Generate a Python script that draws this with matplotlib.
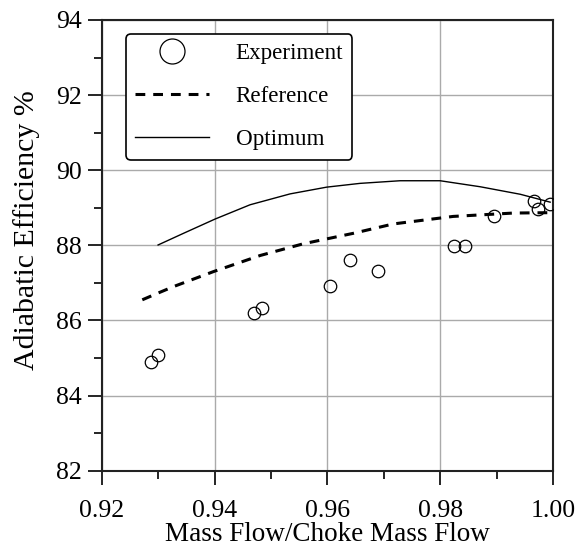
import matplotlib
matplotlib.use("Agg")
import matplotlib.pyplot as plt
from matplotlib.ticker import MultipleLocator

# experiment points
exp_flow = [0.9287, 0.9299, 0.9470, 0.9485, 0.9605, 0.9640, 0.9690,
            0.9825, 0.9844, 0.9896, 0.9967, 0.9974, 0.9995]
exp_eff = [84.89, 85.07, 86.20, 86.34, 86.93, 87.61, 87.31,
           87.97, 87.97, 88.77, 89.17, 88.96, 89.10]

# reference curve
ref_flow = [0.9272, 0.9300, 0.9327, 0.9398, 0.9481, 0.9557, 0.9646,
            0.9717, 0.9823, 0.9930, 0.9995]
ref_eff = [86.55, 86.73, 86.90, 87.30, 87.73, 88.04, 88.32,
           88.57, 88.77, 88.86, 88.87]

# optimum curve
opt_flow = [0.9300, 0.9345, 0.9401, 0.9463, 0.9534, 0.9599, 0.9658,
            0.9729, 0.9800, 0.9871, 0.9942, 0.9995]
opt_eff = [88.01, 88.32, 88.70, 89.08, 89.37, 89.55, 89.65,
           89.72, 89.72, 89.56, 89.36, 89.15]

plt.rcParams['font.family'] = ['Liberation Serif', 'DejaVu Serif']

fig = plt.figure(figsize=(5.83, 5.46), dpi=100)
ax = fig.add_axes([0.1744, 0.1379, 0.7741, 0.8255])

ax.plot(exp_flow, exp_eff, linestyle='none', marker='o', markersize=9,
        markerfacecolor='none', markeredgecolor='black', markeredgewidth=0.9,
        label='Experiment', zorder=3)
ax.plot(ref_flow, ref_eff, color='black', linewidth=2.2, dashes=(3.2, 2.6),
        label='Reference', zorder=3)
ax.plot(opt_flow, opt_eff, color='black', linewidth=1.0,
        label='Optimum', zorder=3)

ax.set_xlim(0.92, 1.00)
ax.set_ylim(82, 94)
ax.xaxis.set_major_locator(MultipleLocator(0.02))
ax.xaxis.set_minor_locator(MultipleLocator(0.01))
ax.yaxis.set_major_locator(MultipleLocator(2))
ax.yaxis.set_minor_locator(MultipleLocator(1))
ax.set_xticklabels([f"{v:.2f}" for v in ax.get_xticks()])

ax.tick_params(which='major', direction='out', length=10, width=1.2,
               labelsize=18.5, pad=4)
ax.tick_params(axis='x', which='major', pad=11)
ax.tick_params(which='minor', direction='out', length=6, width=1.2)
ax.grid(True, which='major', color='#aaaaaa', linewidth=1.0)
ax.set_axisbelow(True)
for s in ax.spines.values():
    s.set_linewidth(1.5)
    s.set_color('#222222')

ax.set_xlabel('Mass Flow/Choke Mass Flow', fontsize=19.5, labelpad=0)
ax.set_ylabel('Adiabatic Efficiency %', fontsize=21.5, labelpad=12, y=0.534)

leg = ax.legend(loc='upper left', bbox_to_anchor=(0.054, 0.969),
                borderaxespad=0, fontsize=16.6, markerscale=2,
                handlelength=3.2, handletextpad=1.15, labelspacing=0.95,
                borderpad=0.4, fancybox=True, framealpha=1,
                edgecolor='black')
leg.get_frame().set_linewidth(1.2)

fig.savefig('out.png', dpi=100)
